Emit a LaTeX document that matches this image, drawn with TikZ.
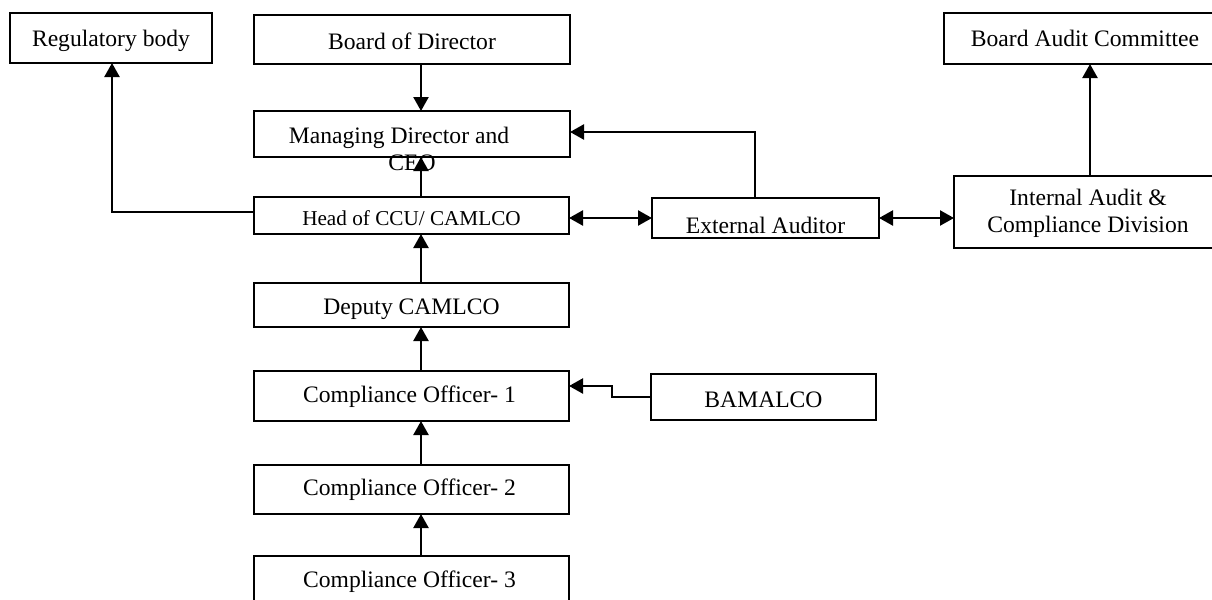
\documentclass[tikz,border=0pt]{standalone}
\usepackage{fontspec}
\setmainfont{Liberation Serif}
\usetikzlibrary{arrows.meta}
\tikzset{
  box/.style={draw, line width=0.9pt, inner sep=0pt, outer sep=0pt},
  lbl/.style={font=\fontsize{11.8}{13.5}\selectfont, inner sep=0pt},
  smalllbl/.style={font=\fontsize{10.6}{13}\selectfont, inner sep=0pt},
  arr/.style={line width=1.15pt, -{Triangle[length=7pt,width=7.5pt]}},
  darr/.style={line width=1.15pt, {Triangle[length=7pt,width=7.5pt]}-{Triangle[length=7pt,width=7.5pt]}},
}
\begin{document}
\begin{tikzpicture}[x=0.5pt,y=-0.5pt]
\useasboundingbox (0,0) rectangle (1212,600);
\clip (0,0) rectangle (1212,600);

% boxes (positions in px, sizes in pt)
\node[box, minimum width=101pt, minimum height=25pt,
      label={[lbl, yshift=-1.5pt]center:Regulatory body}] (reg) at (111,38) {};
\node[box, minimum width=158pt, minimum height=24.5pt,
      label={[lbl, yshift=-1pt]center:Board of Director}] (bod) at (412,39.5) {};
\node[box, minimum width=158pt, minimum height=23pt] (md) at (412,134) {};
\node[lbl, align=center] (mdtext) at (399,149) {Managing Director and\\\hspace*{13pt}CEO};
\node[box, minimum width=157.5pt, minimum height=18.5pt,
      label={[smalllbl, yshift=-1.5pt]center:Head of CCU/ CAMLCO}] (head) at (411.5,215.5) {};
\node[box, minimum width=157.5pt, minimum height=22pt,
      label={[lbl, yshift=-2pt]center:Deputy CAMLCO}] (dep) at (411.5,305) {};
\node[box, minimum width=157.5pt, minimum height=25pt,
      label={[lbl, xshift=-1pt, yshift=-0.5pt]center:Compliance Officer- 1}] (co1) at (411.5,396) {};
\node[box, minimum width=157.5pt, minimum height=24.5pt,
      label={[lbl, xshift=-1pt]center:Compliance Officer- 2}] (co2) at (411.5,489.5) {};
\node[box, minimum width=157.5pt, minimum height=23pt,
      label={[lbl, xshift=-1pt, yshift=-1.5pt]center:Compliance Officer- 3}] (co3) at (411.5,579) {};
\node[box, minimum width=112.5pt, minimum height=23pt,
      label={[lbl, yshift=-1.5pt]center:BAMALCO}] (bam) at (763.5,397) {};
\node[box, minimum width=113.5pt, minimum height=20pt,
      label={[lbl, yshift=-3.5pt]center:External Auditor}] (ext) at (765.5,218) {};
\node[box, minimum width=130pt, minimum height=36pt,
      label={[lbl, align=center, xshift=2pt, yshift=-0.5pt]center:Internal Audit \&\\Compliance Division}] (ia) at (1084,212) {};
\node[box, minimum width=135pt, minimum height=25.5pt,
      label={[lbl, xshift=3pt]center:Board Audit Committee}] (bac) at (1079,38.5) {};

% reporting line up the middle column
\coordinate (spine) at (421,0);
\draw[arr] (bod.south -| spine) -- (md.north -| spine);
\draw[arr] (head.north -| spine) -- (md.south -| spine);
\draw[arr] (dep.north -| spine) -- (head.south -| spine);
\draw[arr] (co1.north -| spine) -- (dep.south -| spine);
\draw[arr] (co2.north -| spine) -- (co1.south -| spine);
\draw[arr] (co3.north -| spine) -- (co2.south -| spine);

% head of CCU to regulatory body
\coordinate (regbend) at (112,212);
\draw[arr] (head.west |- regbend) -- (regbend) -- (reg.south -| regbend);

% external auditor to managing director
\coordinate (audup) at (755,132);
\draw[arr] (ext.north -| audup) -- (audup) -- (md.east |- audup);

% two-way links with the auditors
\draw[darr] (head.east |- ext.west) -- (ext.west);
\draw[darr] (ext.east) -- (ext.east -| ia.west);

% internal audit to board audit committee
\coordinate (iaup) at (1090,0);
\draw[arr] (ia.north -| iaup) -- (bac.south -| iaup);

% BAMALCO to compliance officer 1
\coordinate (jog) at (612,386);
\draw[arr] (bam.west) -| (jog) -- (co1.east |- jog);
\end{tikzpicture}
\end{document}
